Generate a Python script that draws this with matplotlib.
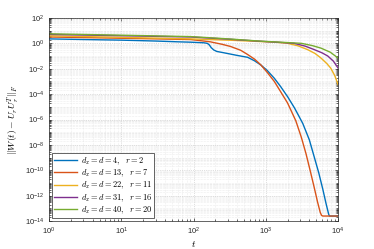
import numpy as np
import matplotlib
matplotlib.use("Agg")
import matplotlib.pyplot as plt
import matplotlib.ticker as ticker

plt.rcParams["mathtext.fontset"] = "cm"
plt.rcParams["font.family"] = ["Liberation Sans", "DejaVu Sans"]

# ── Data (error stored as log10) ────────────────────────────────────────────
t_d4 = [1, 3, 10, 30, 60, 91, 120, 140, 155, 165, 175, 190, 210, 250, 326,
        400, 560, 700, 850, 1050, 1310, 1600, 2000, 2500, 3240, 4000, 4650,
        5400, 6150, 6800, 7400, 7600, 10000]
lg_d4 = [0.35, 0.30, 0.25, 0.18, 0.12, 0.09, 0.06, 0.04, 0.0, -0.12, -0.33,
         -0.52, -0.64, -0.72, -0.85, -0.95, -1.1, -1.38, -1.7, -2.15, -2.75,
         -3.4, -4.2, -5.1, -6.3, -7.6, -8.9, -10.2, -11.5, -12.6, -13.45,
         -13.6, -13.6]

t_d13 = [1, 10, 91, 170, 250, 326, 450, 560, 700, 850, 1050, 1310, 1600,
         2000, 2600, 3100, 3600, 4100, 4650, 5200, 5650, 5900, 6150, 10000]
lg_d13 = [0.5, 0.4, 0.3, 0.12, -0.08, -0.25, -0.55, -0.88, -1.25, -1.69,
          -2.3, -3.0, -3.8, -4.7, -6.1, -7.4, -8.7, -10.0, -11.3, -12.5,
          -13.3, -13.55, -13.6, -13.6]

t_d22 = [1, 10, 91, 300, 850, 1400, 2000, 2800, 3800, 4800, 5800, 7000,
         7900, 9000, 10000]
lg_d22 = [0.59, 0.47, 0.35, 0.25, 0.14, 0.08, 0.0, -0.2, -0.5, -0.8, -1.16,
          -1.6, -1.95, -2.55, -3.25]

t_d31 = [1, 10, 91, 300, 850, 1500, 2460, 3500, 4700, 6000, 7200, 8600,
         10000]
lg_d31 = [0.7, 0.6, 0.5, 0.33, 0.16, 0.08, 0.0, -0.22, -0.5, -0.75, -1.0,
          -1.4, -1.95]

t_d40 = [1, 10, 91, 300, 850, 2000, 3100, 4400, 5800, 7800, 10000]
lg_d40 = [0.75, 0.64, 0.53, 0.35, 0.17, 0.06, 0.0, -0.18, -0.38, -0.7,
          -1.16]

labels = [r"$d_x = d = 4,\ \ r = 2$",
          r"$d_x = d = 13,\ \ r = 7$",
          r"$d_x = d = 22,\ \ r = 11$",
          r"$d_x = d = 31,\ \ r = 16$",
          r"$d_x = d = 40,\ \ r = 20$"]

colors = ["#0072BD", "#D95319", "#EDB120", "#7E2F8E", "#77AC30"]

series = [(t_d4, lg_d4), (t_d13, lg_d13), (t_d22, lg_d22),
          (t_d31, lg_d31), (t_d40, lg_d40)]

# ── Figure ──────────────────────────────────────────────────────────────────
fig = plt.figure(figsize=(3.74, 2.49), dpi=100)
ax = fig.add_axes([0.131, 0.112, 0.773, 0.816])

for (t, lg), c, lab in zip(series, colors, labels):
    ax.loglog(t, 10.0 ** np.asarray(lg), color=c, linewidth=1.0, label=lab)

ax.set_xlim(1, 1e4)
ax.set_ylim(1e-14, 1e2)

ax.xaxis.set_major_locator(ticker.LogLocator(base=10, numticks=10))
ax.xaxis.set_minor_locator(ticker.LogLocator(base=10, subs=np.arange(2, 10),
                                             numticks=100))
ax.yaxis.set_major_locator(ticker.FixedLocator(10.0 ** np.arange(-14, 3, 2)))
ax.yaxis.set_minor_locator(ticker.LogLocator(base=10, subs=np.arange(1, 10),
                                             numticks=100))
ax.yaxis.set_minor_formatter(ticker.NullFormatter())
ax.xaxis.set_minor_formatter(ticker.NullFormatter())

ax.tick_params(axis="both", which="both", direction="in", top=True,
               right=True, labelsize=5.5, width=0.5, colors="#262626")
ax.tick_params(axis="both", which="major", length=2.5)
ax.tick_params(axis="both", which="minor", length=1.5)

ax.grid(True, which="major", linestyle=":", linewidth=0.5, color="#c0c0c0")
ax.grid(True, which="minor", linestyle=":", linewidth=0.4, color="#dcdcdc")
ax.set_axisbelow(True)

for sp in ax.spines.values():
    sp.set_linewidth(0.5)
    sp.set_color("#262626")

ax.set_xlabel(r"$t$", fontsize=7, labelpad=1)
ax.set_ylabel(r"$\|W(t) - U_r U_r^T\|_F$", fontsize=7, labelpad=2)

ax.legend(loc="lower left", fontsize=6.0, frameon=True, fancybox=False,
          edgecolor="#262626", framealpha=1, handlelength=2.8,
          labelspacing=0.1, borderpad=0.25, handletextpad=0.4,
          borderaxespad=0.35).get_frame().set_linewidth(0.5)

fig.savefig("out.png", dpi=100)
